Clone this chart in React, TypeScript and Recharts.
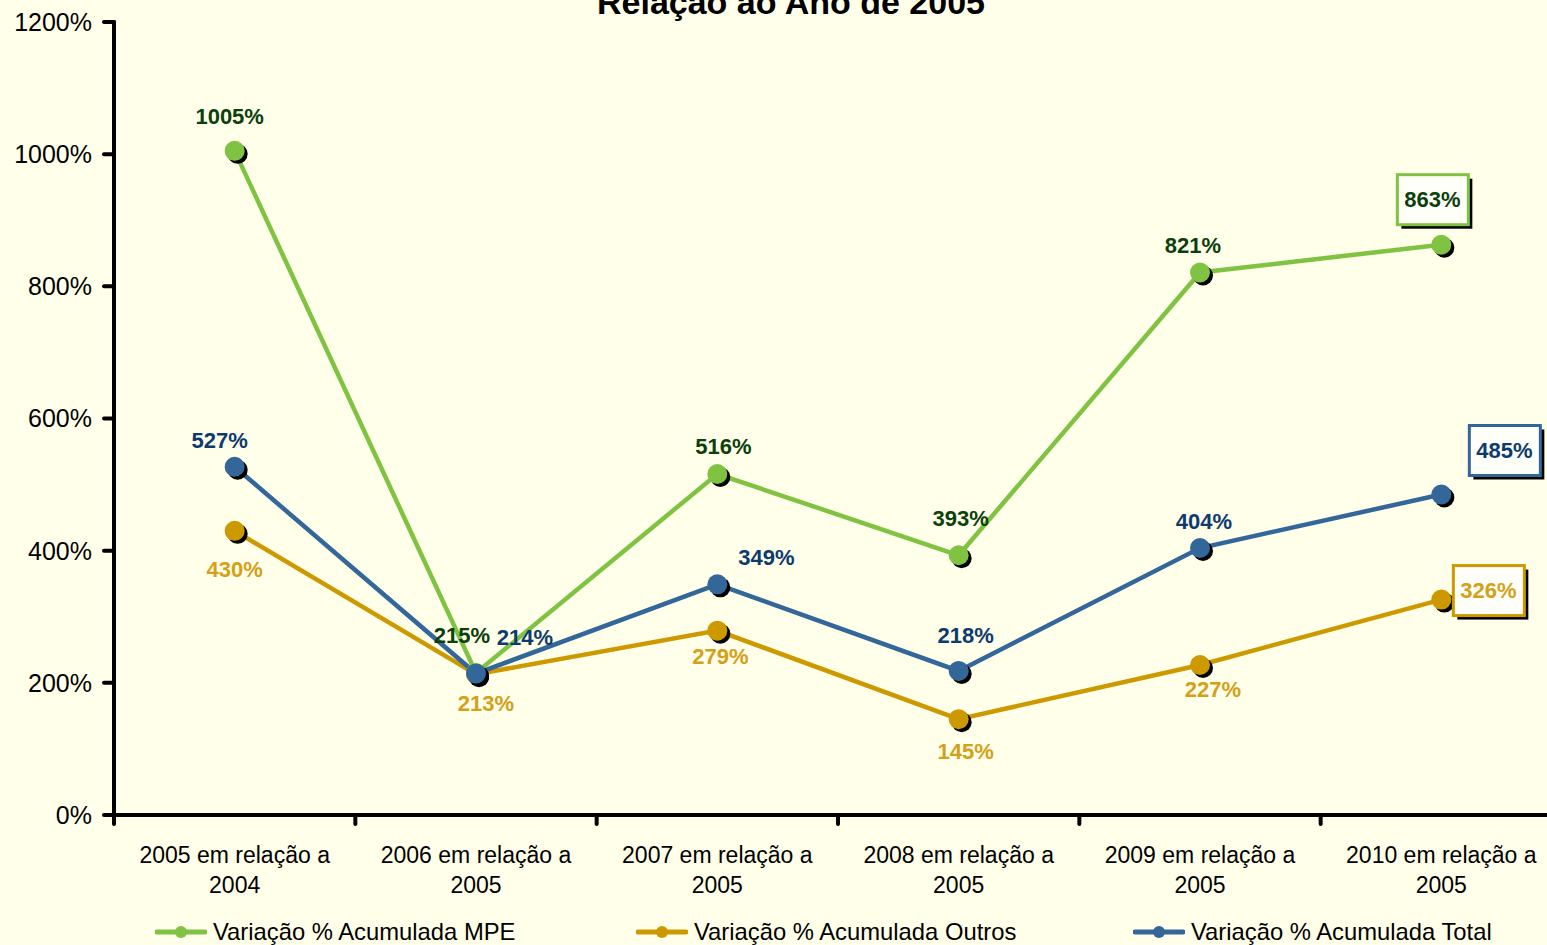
import React from "react";
import { LineChart, Line, XAxis, YAxis } from "recharts";

const categories = [
  ["2005 em relação a", "2004"],
  ["2006 em relação a", "2005"],
  ["2007 em relação a", "2005"],
  ["2008 em relação a", "2005"],
  ["2009 em relação a", "2005"],
  ["2010 em relação a", "2005"],
];
const mpe = [1005, 215, 516, 393, 821, 863];
const outros = [430, 213, 279, 145, 227, 326];
const total = [527, 214, 349, 218, 404, 485];
const yTicks = [0, 200, 400, 600, 800, 1000, 1200];

const FONT = "'Liberation Sans', Arial, sans-serif";
const BG = "#FFFFEA";

// label offsets from each point (px)
const mpeOffs = [[-5, -34], [-14, -37], [6, -28], [2, -37], [-7, -27], [-9, -45]];
const outrosOffs = [[0, 39], [10, 29], [3, 26], [7, 32], [13, 25], [47, -9]];
const totalOffs = [[-15, -26], [49, -36], [49, -27], [7, -35], [4, -27], [63, -44]];

const data = categories.map((c, i) => ({
  x: i + 0.5,
  mpe: mpe[i],
  outros: outros[i],
  total: total[i],
}));

const series = [
  { key: "mpe", name: "Variação % Acumulada MPE", color: "#80C342", text: "#0B400B", offs: mpeOffs },
  { key: "outros", name: "Variação % Acumulada Outros", color: "#CC9900", text: "#D4A017", offs: outrosOffs },
  { key: "total", name: "Variação % Acumulada Total", color: "#336699", text: "#0D3B6E", offs: totalOffs },
];

const makeDot = (color: string) => (p: any) => {
  if (p.cx == null || p.cy == null) return <g key={p.index} />;
  return (
    <g key={p.index}>
      <circle cx={p.cx + 3} cy={p.cy + 3} r={10} fill="#000" />
      <circle cx={p.cx} cy={p.cy} r={10} fill={color} />
    </g>
  );
};

const makeLabel = (s: any) => (p: any) => {
  const { x, y, value, index } = p;
  if (x == null || y == null) return null;
  const [dx, dy] = s.offs[index] || [0, -30];
  const cx = x + dx;
  const cy = y + dy;
  const boxed = index === data.length - 1;
  return (
    <g key={`${s.key}-${index}`}>
      {boxed && (
        <>
          <rect x={cx - 35 + 4} y={cy - 25 + 4} width={71} height={50} fill="#000" />
          <rect x={cx - 35} y={cy - 25} width={71} height={50} fill="#FFFFFA" stroke={s.color} strokeWidth={3} />
        </>
      )}
      <text x={cx} y={cy} textAnchor="middle" dominantBaseline="central"
        fontFamily={FONT} fontWeight="bold" fontSize={22} fill={s.text}>
        {value}%
      </text>
    </g>
  );
};

const CatTick = (p: any) => {
  const idx = Math.floor(p.payload.value);
  const lines = categories[idx] || [];
  return (
    <text x={p.x} y={p.y} textAnchor="middle" fontFamily={FONT} fontSize={23} fill="#000">
      <tspan x={p.x} dy={36}>{lines[0]}</tspan>
      <tspan x={p.x} dy={30}>{lines[1]}</tspan>
    </text>
  );
};

const legendX = [155, 636, 1133];

export default function App() {
  return (
    <div style={{ position: "fixed", left: 0, top: 0, width: 1547, height: 945, overflow: "hidden", background: BG }}>
      <div style={{
        position: "absolute", left: 0, width: 1582, top: -15, textAlign: "center",
        fontFamily: FONT, fontWeight: "bold", fontSize: 34, lineHeight: "34px", color: "#000",
      }}>
        Relação ao Ano de 2005
      </div>
      <div style={{ position: "absolute", left: 0, top: 0 }}>
        <LineChart width={1600} height={945} data={data}
          margin={{ top: 22, right: 38, bottom: 38, left: 0 }}>
          <XAxis type="number" dataKey="x" domain={[0, 6]} ticks={[0, 1, 2, 3, 4, 5, 6]}
            height={12} tickSize={9} tick={() => <g />}
            axisLine={{ stroke: "#000", strokeWidth: 4, strokeLinecap: "round" }}
            tickLine={{ stroke: "#000", strokeWidth: 4, strokeLinecap: "round" }} />
          <XAxis xAxisId="lab" type="number" dataKey="x" domain={[0, 6]}
            ticks={[0.5, 1.5, 2.5, 3.5, 4.5, 5.5]} height={80} tickSize={0} tickMargin={0}
            axisLine={false} tickLine={false} tick={<CatTick />} interval={0} />
          <YAxis width={114} domain={[0, 1200]} ticks={yTicks} interval={0}
            tickFormatter={(v) => `${v}%`} tickSize={10} tickMargin={12}
            tick={{ fontSize: 25, fill: "#000", fontFamily: FONT }}
            axisLine={{ stroke: "#000", strokeWidth: 4, strokeLinecap: "round" }}
            tickLine={{ stroke: "#000", strokeWidth: 4, strokeLinecap: "round" }} />
          {series.map((s) => (
            <Line key={s.key} dataKey={s.key} name={s.name} stroke={s.color} strokeWidth={4.5}
              type="linear" dot={makeDot(s.color)} activeDot={false}
              label={makeLabel(s)} isAnimationActive={false} />
          ))}
        </LineChart>
      </div>
      {series.map((s, i) => (
        <div key={s.key} style={{
          position: "absolute", left: legendX[i], top: 918, height: 28,
          display: "flex", alignItems: "center", fontFamily: FONT, fontSize: 23.8, color: "#000",
          whiteSpace: "nowrap",
        }}>
          <svg width={52} height={20} style={{ marginRight: 6 }}>
            <line x1={2} y1={10} x2={50} y2={10} stroke={s.color} strokeWidth={5} strokeLinecap="round" />
            <circle cx={26} cy={10} r={6} fill={s.color} />
          </svg>
          {s.name}
        </div>
      ))}
    </div>
  );
}
